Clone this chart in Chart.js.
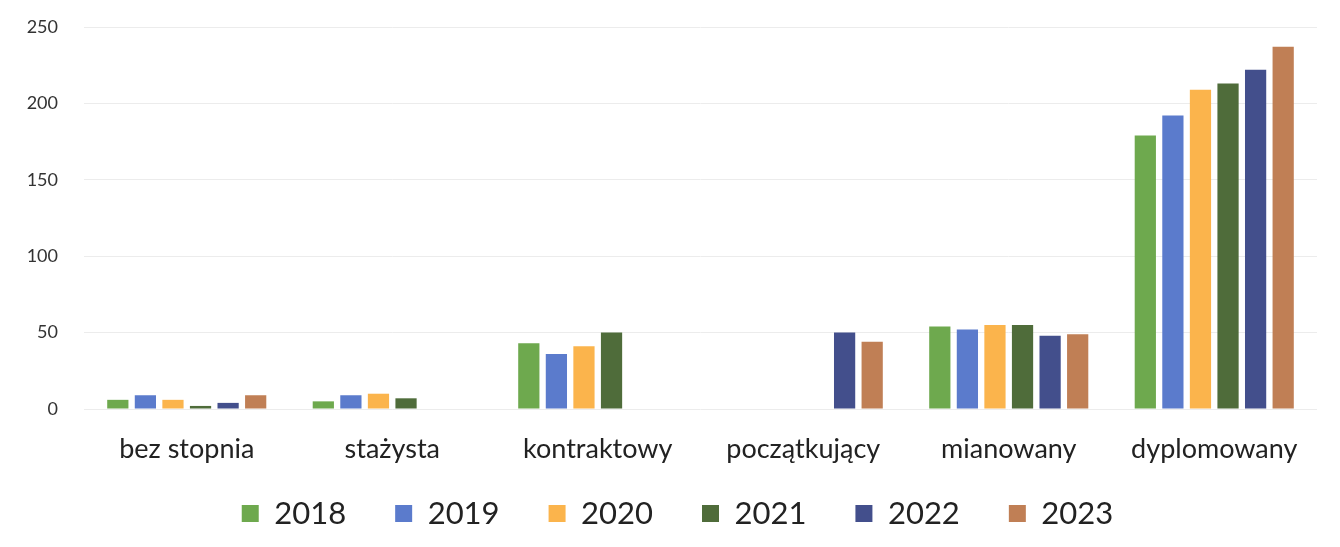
<!DOCTYPE html>
<html>
<head>
<meta charset="utf-8">
<script src="https://cdn.jsdelivr.net/npm/chart.js@4/dist/chart.umd.min.js"></script>
<style>
html,body{margin:0;padding:0;background:#fff;}
#wrap{width:1340px;height:547px;position:relative;}
</style>
</head>
<body>
<div id="wrap"><canvas id="c" width="1340" height="547"></canvas></div>
<script>
const categories = ["bez stopnia", "stażysta", "kontraktowy", "początkujący", "mianowany", "dyplomowany"];
const years = ["2018", "2019", "2020", "2021", "2022", "2023"];
const v2018 = [6, 5, 43, null, 54, 179];
const v2019 = [9, 9, 36, null, 52, 192];
const v2020 = [6, 10, 41, null, 55, 209];
const v2021 = [2, 7, 50, null, 55, 213];
const v2022 = [4, null, null, 50, 48, 222];
const v2023 = [9, null, null, 44, 49, 237];
const yTicks = [0, 50, 100, 150, 200, 250];
const colors = ["#6ea94e", "#5b7bcc", "#fbb44c", "#4f6c3a", "#434f8c", "#c07f55"];
const seriesValues = [v2018, v2019, v2020, v2021, v2022, v2023];

const datasets = years.map((y, i) => ({
  label: y,
  data: seriesValues[i],
  backgroundColor: colors[i],
  borderWidth: 0,
  barPercentage: 0.77,
  categoryPercentage: 0.805
}));

const LEG_UP = 40, LEG_RIGHT = 19;
const legendShift = {
  id: 'legendShift',
  beforeDraw(chart) {
    const lg = chart.legend;
    if (!lg) return;
    lg.top -= LEG_UP;
    lg.bottom += LEG_UP;
    lg.left += LEG_RIGHT; lg.right += LEG_RIGHT;
  }
};

const chart = new Chart(document.getElementById('c'), {
  type: 'bar',
  data: { labels: categories, datasets },
  plugins: [legendShift],
  options: {
    responsive: false,
    animation: false,
    layout: { padding: { top: 27, right: 23, left: 0, bottom: 8 } },
    plugins: {
      tooltip: { enabled: false },
      legend: {
        position: 'bottom',
        labels: {
          boxWidth: 17, boxHeight: 17,
          padding: 49,
          color: '#222',
          font: { family: 'Lato', size: 31 }
        }
      }
    },
    scales: {
      x: {
        grid: { display: false, drawTicks: false },
        border: { display: false },
        ticks: { color: '#222', font: { family: 'Lato', size: 27 }, padding: 24 },
        afterFit: s => { s.height = 80; }
      },
      y: {
        min: 0, max: 250,
        afterBuildTicks: s => { s.ticks = yTicks.map(v => ({ value: v })); },
        grid: { color: '#ececec', drawTicks: false, lineWidth: 1 },
        border: { display: false },
        ticks: { color: '#333', font: { family: 'Lato', size: 18 }, padding: 26 },
        afterFit: s => { s.width = 84; s.paddingTop = 0; s.paddingBottom = 0; }
      }
    }
  }
});
const lgBox = chart.legend;
const origFit = lgBox.fit.bind(lgBox);
lgBox.fit = function () { origFit(); this.height -= LEG_UP; };
chart.update();
</script>
</body>
</html>
